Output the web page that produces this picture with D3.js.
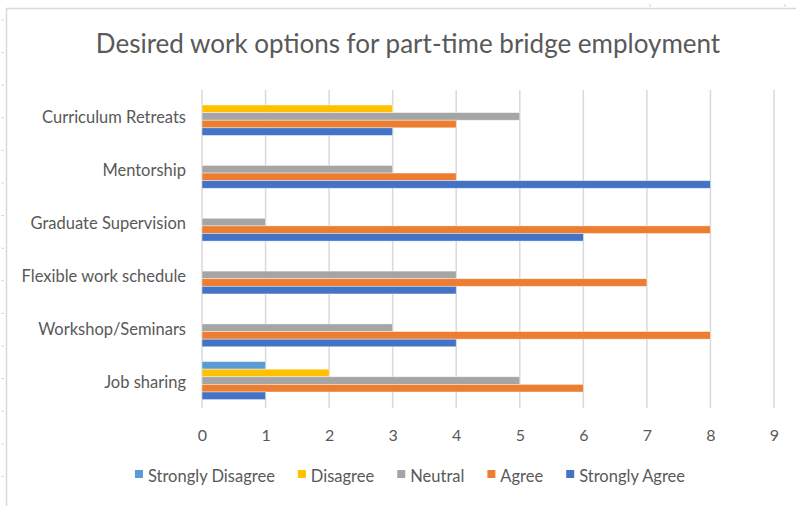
<!DOCTYPE html>
<html lang="en">
<head>
    <meta charset="UTF-8">
    <title>Desired work options for part-time bridge employment</title>
    <style>
        body { margin: 0; background: #fff; }
        svg { display: block; font-family: Lato, "Open Sans", sans-serif; }
    </style>
</head>
<body>
    <svg id="chart" width="796" height="506"></svg>

    <script src="https://cdn.jsdelivr.net/npm/d3@7"></script>
    <script>
        // data (top category first)
        const categories = ["Curriculum Retreats", "Mentorship", "Graduate Supervision",
                            "Flexible work schedule", "Workshop/Seminars", "Job sharing"];
        const seriesNames = ["Strongly Disagree", "Disagree", "Neutral", "Agree", "Strongly Agree"];
        const stronglyDisagree = [0, 0, 0, 0, 0, 1];
        const disagree         = [3, 0, 0, 0, 0, 2];
        const neutral          = [5, 3, 1, 4, 3, 5];
        const agree            = [4, 4, 8, 7, 8, 6];
        const stronglyAgree    = [3, 8, 6, 4, 4, 1];
        const xTicks = [0, 1, 2, 3, 4, 5, 6, 7, 8, 9];

        const seriesValues = [stronglyDisagree, disagree, neutral, agree, stronglyAgree];
        const colors = ["#5b9bd5", "#ffc000", "#a5a5a5", "#ed7d31", "#4472c4"];
        const textColor = "#595959";
        const labelSize = "16.5px";

        const svg = d3.select("#chart");
        const width = +svg.attr("width"), height = +svg.attr("height");

        // frame of the embedded chart
        svg.append("rect").attr("width", width).attr("height", height).attr("fill", "#fff");
        svg.append("path")
            .attr("d", `M6.5,${height} V8.5 H${width}`)
            .attr("fill", "none").attr("stroke", "#d9d9d9").attr("stroke-width", 1.5);
        // spreadsheet row / column marks outside the frame
        svg.append("g").selectAll("line")
            .data(d3.range(20, height, 32.6))
            .join("line")
            .attr("x1", 1.5).attr("x2", 4).attr("y1", d => d).attr("y2", d => d)
            .attr("stroke", "#cfcfcf");
        svg.append("g").selectAll("line")
            .data([650, 785])
            .join("line")
            .attr("x1", d => d).attr("x2", d => d).attr("y1", 4).attr("y2", 7)
            .attr("stroke", "#cfcfcf");

        const margin = { left: 202, right: 22, top: 90, bottom: 99 };

        const x = d3.scaleLinear()
            .domain([0, 9])
            .range([margin.left, width - margin.right]);

        const y = d3.scaleBand()
            .domain(categories)
            .range([margin.top, height - margin.bottom])
            .paddingInner(0.28)
            .paddingOuter(0.14);

        const ySub = d3.scaleBand()
            .domain(seriesNames)
            .range([0, y.bandwidth()]);

        // title
        svg.append("text")
            .attr("x", 408).attr("y", 53)
            .attr("text-anchor", "middle")
            .attr("fill", textColor)
            .style("font-size", "26px")
            .text("Desired work options for part-time bridge employment");

        // vertical gridlines
        svg.append("g")
            .selectAll("line")
            .data(xTicks)
            .join("line")
            .attr("x1", d => x(d)).attr("x2", d => x(d))
            .attr("y1", margin.top).attr("y2", height - margin.bottom + 1)
            .attr("stroke", "#d9d9d9").attr("stroke-width", 1.5);

        // x axis labels
        const xAxis = svg.append("g")
            .attr("transform", `translate(0,${height - margin.bottom})`)
            .call(d3.axisBottom(x).tickValues(xTicks).tickSize(0).tickPadding(23));
        xAxis.select(".domain").remove();
        xAxis.selectAll("text")
            .attr("fill", textColor)
            .style("font-size", "16px")
            .style("font-family", "Lato, sans-serif");

        // category labels
        const yAxis = svg.append("g")
            .attr("transform", `translate(${margin.left},0)`)
            .call(d3.axisLeft(y).tickSize(0).tickPadding(16));
        yAxis.select(".domain").remove();
        yAxis.selectAll("text")
            .attr("fill", textColor)
            .attr("dy", "0.42em")
            .style("font-size", labelSize)
            .style("font-family", "Lato, sans-serif");

        // bars
        const rows = categories.map((c, i) => ({
            category: c,
            values: seriesNames.map((s, j) => ({ series: s, index: j, value: seriesValues[j][i] }))
        }));

        svg.append("g")
            .selectAll("g")
            .data(rows)
            .join("g")
            .attr("transform", d => `translate(0,${y(d.category)})`)
            .selectAll("rect")
            .data(d => d.values.filter(v => v.value > 0))
            .join("rect")
            .attr("x", x(0))
            .attr("y", d => ySub(d.series))
            .attr("width", d => x(d.value) - x(0))
            .attr("height", ySub.bandwidth())
            .attr("fill", d => colors[d.index])
            .attr("stroke", "#fff")
            .attr("stroke-opacity", 0.55)
            .attr("stroke-width", 0.75);

        // legend
        const legend = svg.append("g");
        const items = legend.selectAll("g")
            .data(seriesNames)
            .join("g");
        items.append("rect")
            .attr("y", 470).attr("width", 8).attr("height", 8)
            .attr("fill", (d, i) => colors[i]);
        items.append("text")
            .attr("x", 13).attr("y", 482)
            .attr("fill", textColor)
            .style("font-size", labelSize)
            .text(d => d);

        let offset = 0;
        const positions = [];
        items.each(function () {
            positions.push(offset);
            const w = d3.select(this).select("text").node().getComputedTextLength();
            offset += 13 + w + 23;
        });
        const legendWidth = offset - 23;
        const legendStart = 410 - legendWidth / 2;
        items.attr("transform", (d, i) => `translate(${legendStart + positions[i]},0)`);
    </script>
</body>
</html>
